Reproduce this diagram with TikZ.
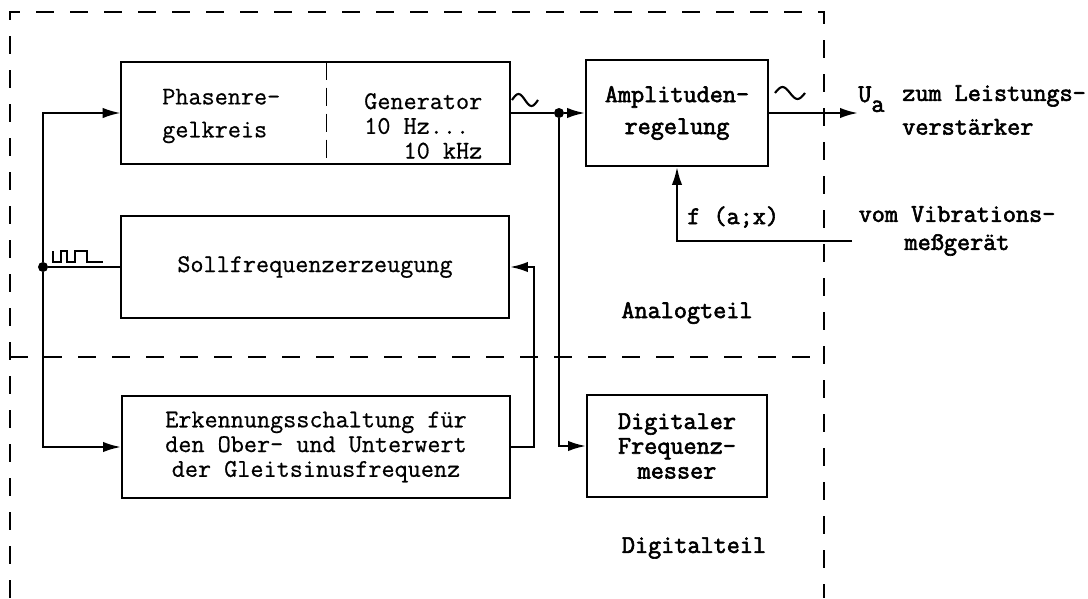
\documentclass[tikz,border=0pt]{standalone}
\usepackage{fontspec}
\newfontfamily\typeR{Latin Modern Mono}[FakeBold=0.6]
\newfontfamily\typeB{Latin Modern Mono}[FakeBold=2.4]
\newcommand\sizeN{\fontsize{18.1}{16.2}\selectfont}
\newcommand\sizeL{\fontsize{18.1}{17.6}\selectfont}
\usetikzlibrary{arrows.meta}

\begin{document}
\begin{tikzpicture}[x=0.025cm, y=-0.025cm,
  txt/.style={font=\typeR\sizeN, inner sep=0pt},
  txtb/.style={font=\typeB\sizeN, inner sep=0pt},
  txtl/.style={font=\typeR\sizeL, inner sep=0pt},
  txtbl/.style={font=\typeB\sizeL, inner sep=0pt},
  block/.style={draw, line width=1.3pt, minimum height=2.55cm},
  part/.style={minimum height=2.55cm, inner sep=0pt},
  wire/.style={line width=1.6pt},
  feed/.style={wire, -{Latex[length=4.5mm,width=2.6mm]}},
  border/.style={line width=0.9pt, dash pattern=on 0.45cm off 0.4cm},
  junction/.style={circle, fill, inner sep=0pt, minimum size=0.25cm},
  wave/.style={line width=1.5pt}]
  \fill[white] (0,0) rectangle (1088,598);

  % Analogteil / Digitalteil
  \draw[border] (10,598) -- (10,12) -- (824,12) -- (824,598);
  \draw[border] (10,357) -- (824,357);

  % Phasenregelkreis + Generator
  \node[part, minimum width=5.125cm] (pll) at (223.5,113) {};
  \node[part, minimum width=4.6cm] (gen) at (418,113) {};
  \draw[line width=1.3pt] (pll.north west) rectangle (gen.south east);
  \draw[line width=1.1pt, dash pattern=on 0.45cm off 0.2cm] (pll.north east) -- (pll.south east);
  \node[txt, align=left, anchor=west] (pllt) at (162,116) {Phasenre-\\[7.2pt]gelkreis};
  \node[txtl, align=left, anchor=west] (gent) at (364,126) {Generator\\10 Hz...\\\hphantom{Gen}10 kHz};

  \node[block, txtb, minimum width=4.55cm, minimum height=2.65cm, align=center] (amp) at (677,113) {Amplituden-\\[6.5pt]regelung};
  \node[block, txt, minimum width=9.7cm] (soll) at (315,267) {Sollfrequenzerzeugung};
  \node[block, txtl, minimum width=9.7cm, align=center] (erk) at (316,447) {Erkennungsschaltung für\\den Ober- und Unterwert\\der Gleitsinusfrequenz};
  \node[block, txtbl, minimum width=4.5cm, align=center] (dig) at (677,446) {Digitaler\\Frequenz-\\messer};

  \node[junction] (tap) at (43,267) {};
  \node[junction] (split) at (559,113) {};

  % labels
  \node[txtb, anchor=west] (fax) at (687,217) {f (a;x)};
  \node[txtb] (analog) at (687,313) {Analogteil};
  \node[txtb] (digital) at (694,548) {Digitalteil};
  \node[txtb, anchor=base west] (ua) at (858,102) {U\raisebox{-7pt}{a}};
  \node[txtb, align=left, anchor=west] (dest) at (902,110) {zum Leistungs-\\[7.8pt]verstärker};
  \node[txtb, align=center] (vib) at (957,231) {vom Vibrations-\\[3.8pt]meßgerät};
  \coordinate (vibin) at (852,241);

  % connections
  \draw[wire] (soll.west) -- (tap);
  \draw[feed] (tap) |- (pll.west);
  \draw[feed] (tap) |- (erk.west);
  \draw[wire] (gen.east) -- (split);
  \draw[feed] (split) -- (amp.west);
  \draw[feed] (split) |- (dig.west);
  \draw[feed] (erk.east) -- ++(23,0) |- (soll.east);
  \draw[feed] (amp.east) -- (amp.east -| ua.west);
  \draw[feed] (vibin) -| (amp.south);

  % signal forms
  \draw[line width=1.4pt] (53,251) -- (53,262) -- (61,262) -- (61,251) -- (67,251) -- (67,262)
    -- (75,262) -- (75,251) -- (87,251) -- (87,262) -- (103,262);
  \draw[wave] (512,100) sin (518.5,94) cos (525,100) sin (531.5,106) cos (538,100);
  \draw[wave] (775,93) sin (782.5,87) cos (790,93) sin (797.5,99) cos (805,93);
\end{tikzpicture}
\end{document}
